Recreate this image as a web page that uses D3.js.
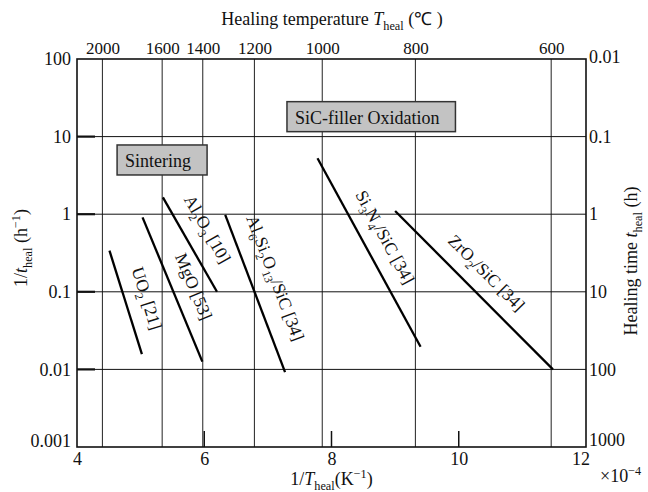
<!DOCTYPE html>
<html>
<head>
<meta charset="utf-8">
<script src="https://cdn.jsdelivr.net/npm/d3@7"></script>
<style>
  body { margin: 0; background: #fff; }
  svg text { font-family: "Liberation Serif", "Times New Roman", serif !important; fill: #111; }
</style>
</head>
<body>
<div id="container"></div>
<script>
/* DATA */
const materials = ["UO2", "MgO", "Al2O3", "Al6Si2O13/SiC", "Si3N4/SiC", "ZrO2/SiC"]
// each line: [1/T start, 1/T end] (x10^-4 K^-1) and [rate start, rate end] (h^-1)
const invTemp = [[4.51, 5.02], [5.03, 5.97], [5.35, 6.20], [6.33, 7.27], [7.78, 9.40], [9.00, 11.48]]
const rates = [[0.34, 0.0157], [0.91, 0.0126], [1.65, 0.10], [0.98, 0.0092], [5.25, 0.0196], [1.10, 0.0100]]
// label centres in data units
const labelX = [5.01, 5.75, 5.97, 7.03, 8.76, 10.37]
const labelY = [0.078, 0.109, 0.59, 0.142, 0.465, 0.155]
const labelParts = [
  [["UO", ""], ["2", "sub"], [" [21]", ""]],
  [["MgO [53]", ""]],
  [["Al", ""], ["2", "sub"], ["O", ""], ["3", "sub"], [" [10]", ""]],
  [["Al", ""], ["6", "sub"], ["Si", ""], ["2", "sub"], ["O", ""], ["13", "sub"], ["/SiC [34]", ""]],
  [["Si", ""], ["3", "sub"], ["N", ""], ["4", "sub"], ["/SiC [34]", ""]],
  [["ZrO", ""], ["2", "sub"], ["/SiC [34]", ""]]
]
const tempTicks = [2000, 1600, 1400, 1200, 1000, 800, 600]   // deg C, top axis
const rateTicks = [0.001, 0.01, 0.1, 1, 10, 100]
const timeTicks = [0.01, 0.1, 1, 10, 100, 1000]
const xTicks = [4, 6, 8, 10, 12]
const regions = ["Sintering", "SiC-filler Oxidation"]
const regionX = [4.63, 7.30]     // left edge, data units
const regionY = [7.8, 28.2]      // top edge, data units

/* CONSTANTS */
const W = 648, H = 492
const margin = {top: 59, right: 62, bottom: 45, left: 77}
const width = W - margin.left - margin.right,
      height = H - margin.top - margin.bottom
const serif = '"Liberation Serif", "Times New Roman", serif'

const svg = d3.select("#container").append("svg")
  .attr("width", W).attr("height", H)
  .attr("font-family", serif)
const g = svg.append("g")
  .attr("transform", "translate(" + margin.left + "," + margin.top + ")")

/* SCALES */
const xScale = d3.scaleLinear().domain([4, 12]).range([0, width])
const yScale = d3.scaleLog().domain([0.001, 100]).range([height, 0])
const yRight = d3.scaleLog().domain([1000, 0.01]).range([height, 0])
const toInv = t => 1e4 / (t + 273.15)

// rich text helper: parts of [string, "sub"|"sup"|""|"it"]
function rich(sel, parts, size) {
  let shift = 0
  parts.forEach(([s, k]) => {
    const t = sel.append("tspan").text(s)
    let target = 0
    if (k === "sub") { target = size * 0.28; t.style("font-size", (size * 0.68) + "px") }
    else if (k === "sup") { target = -size * 0.38; t.style("font-size", (size * 0.68) + "px") }
    else if (k === "it") t.style("font-style", "italic")
    t.attr("dy", target - shift)
    shift = target
  })
}

/* GRID */
g.selectAll("line.vgrid")
  .data(tempTicks)
  .join("line")
  .attr("x1", d => xScale(toInv(d))).attr("x2", d => xScale(toInv(d)))
  .attr("y1", 0).attr("y2", height)
  .attr("stroke", "#222").attr("stroke-width", 1)

g.selectAll("line.hgrid")
  .data(rateTicks.slice(1, 5))
  .join("line")
  .attr("x1", 0).attr("x2", width)
  .attr("y1", d => yScale(d)).attr("y2", d => yScale(d))
  .attr("stroke", "#111").attr("stroke-width", 1)

/* AXES */
const fs = 18
function styleAxis(ax, size) {
  ax.attr("font-family", null).attr("font-size", null)
  ax.select(".domain").remove()
  ax.selectAll("text").style("font-family", serif).style("font-size", size + "px")
}
const leftAxis = g.append("g")
  .call(d3.axisLeft(yScale).tickValues(rateTicks).tickSize(0).tickPadding(6)
    .tickFormat(d => d3.format("~g")(d)))
styleAxis(leftAxis, fs)
leftAxis.selectAll("text")
  .attr("dy", d => d === 0.001 ? "-0.05em" : "0.32em")
// thick inner ticks on the left
g.selectAll("line.ltick")
  .data(rateTicks.slice(1, 5))
  .join("line")
  .attr("x1", 0).attr("x2", 18)
  .attr("y1", d => yScale(d)).attr("y2", d => yScale(d))
  .attr("stroke", "#111").attr("stroke-width", 2.2)

const rightAxis = g.append("g")
  .attr("transform", "translate(" + width + ",0)")
  .call(d3.axisRight(yRight).tickValues(timeTicks).tickSize(0).tickPadding(3)
    .tickFormat(d => d3.format("~g")(d)))
styleAxis(rightAxis, fs)
rightAxis.selectAll("text")
  .attr("dy", d => d === 1000 ? "-0.1em" : d === 0.01 ? "0.2em" : "0.32em")

const bottomAxis = g.append("g")
  .attr("transform", "translate(0," + height + ")")
  .call(d3.axisBottom(xScale).tickValues(xTicks).tickSize(0).tickPadding(5)
    .tickFormat(d => d))
styleAxis(bottomAxis, fs)
bottomAxis.selectAll("text").attr("dx", d => d === 12 ? "-0.3em" : 0)
g.selectAll("line.btick")
  .data(xTicks.slice(1, 4))
  .join("line")
  .attr("x1", d => xScale(d)).attr("x2", d => xScale(d))
  .attr("y1", height).attr("y2", height - 16)
  .attr("stroke", "#111").attr("stroke-width", 1.5)

const topAxis = g.append("g")
  .call(d3.axisTop(xScale).tickValues(tempTicks.map(toInv)).tickSize(0).tickPadding(5)
    .tickFormat((d, i) => tempTicks[i]))
styleAxis(topAxis, 17)

// frame
g.append("rect")
  .attr("width", width).attr("height", height)
  .attr("fill", "none").attr("stroke", "#111").attr("stroke-width", 1.6)

/* LINES */
g.selectAll("line.mat")
  .data(materials)
  .join("line")
  .attr("class", "mat")
  .attr("x1", (d, i) => xScale(invTemp[i][0])).attr("x2", (d, i) => xScale(invTemp[i][1]))
  .attr("y1", (d, i) => yScale(rates[i][0])).attr("y2", (d, i) => yScale(rates[i][1]))
  .attr("stroke", "#000").attr("stroke-width", 2.3)

/* LINE LABELS */
const lfs = 17.5
materials.forEach((m, i) => {
  const dx = xScale(invTemp[i][1]) - xScale(invTemp[i][0])
  const dy = yScale(rates[i][1]) - yScale(rates[i][0])
  const ang = Math.atan2(dy, dx) * 180 / Math.PI
  const cx = xScale(labelX[i]), cy = yScale(labelY[i])
  const t = g.append("text")
    .attr("transform", "translate(" + cx + "," + cy + ") rotate(" + ang + ")")
    .attr("text-anchor", "middle")
    .attr("dy", "0.35em")
    .style("font-size", lfs + "px")
  rich(t, labelParts[i], lfs)
})

/* REGION BOXES */
regions.forEach((r, i) => {
  const t = g.append("text")
    .attr("x", xScale(regionX[i]) + 8)
    .attr("y", yScale(regionY[i]) + 22)
    .style("font-size", "18px")
    .text(r)
  const bb = t.node().getBBox()
  g.insert("rect", () => t.node())
    .attr("x", xScale(regionX[i])).attr("y", yScale(regionY[i]))
    .attr("width", bb.width + 24).attr("height", 30)
    .attr("fill", "#c3c3c3").attr("stroke", "#333").attr("stroke-width", 1.5)
})

/* TITLES */
const tfs = 18
const topTitle = svg.append("text")
  .attr("x", 332).attr("y", 25).attr("text-anchor", "middle")
  .style("font-size", tfs + "px")
rich(topTitle, [["Healing temperature ", ""], ["T", "it"], ["heal", "sub"], [" (\u2103 )", ""]], tfs)

const bottomTitle = svg.append("text")
  .attr("x", margin.left + width / 2).attr("y", 485).attr("text-anchor", "middle")
  .style("font-size", tfs + "px")
rich(bottomTitle, [["1/", ""], ["T", "it"], ["heal", "sub"], ["(K", ""], ["\u22121", "sup"], [")", ""]], tfs)

const expo = svg.append("text")
  .attr("x", 600).attr("y", 482)
  .style("font-size", tfs + "px")
rich(expo, [["\u00d710", ""], ["\u22124", "sup"]], tfs)

const leftTitle = svg.append("text")
  .attr("transform", "translate(27," + (margin.top + height / 2 - 5) + ") rotate(-90)")
  .attr("text-anchor", "middle")
  .style("font-size", tfs + "px")
rich(leftTitle, [["1/", ""], ["t", "it"], ["heal", "sub"], [" (h", ""], ["\u22121", "sup"], [")", ""]], tfs)

const rightTitle = svg.append("text")
  .attr("transform", "translate(637," + (margin.top + height / 2 + 8) + ") rotate(-90)")
  .attr("text-anchor", "middle")
  .style("font-size", tfs + "px")
rich(rightTitle, [["Healing time ", ""], ["t", "it"], ["heal", "sub"], [" (h)", ""]], tfs)
</script>
</body>
</html>
